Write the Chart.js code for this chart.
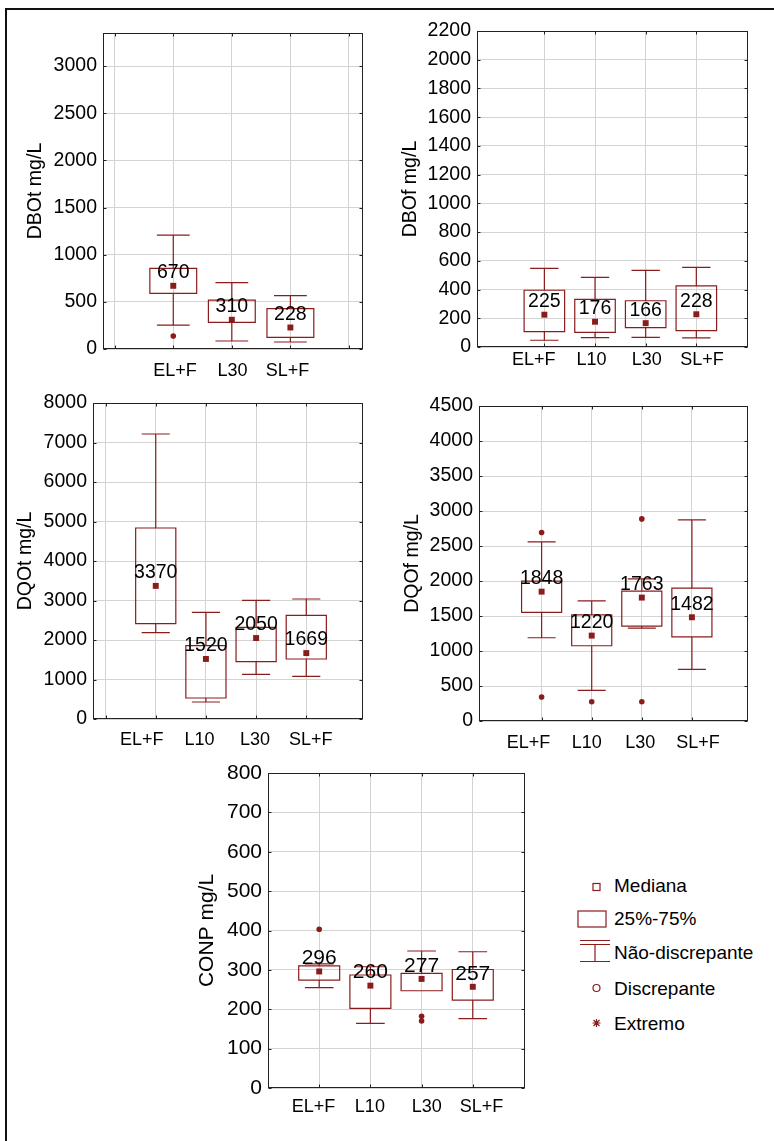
<!DOCTYPE html>
<html>
<head>
<meta charset="utf-8">
<script src="https://cdn.jsdelivr.net/npm/chart.js@4.4.0/dist/chart.umd.min.js"></script>
<style>
  html, body { margin: 0; padding: 0; background: #fff; }
  body { width: 774px; height: 1141px; position: relative; overflow: hidden; font-family: 'Liberation Sans', Arial, sans-serif; }
  canvas { position: absolute; }
  #frame { position: absolute; left: 5px; top: 8px; right: 0; bottom: 0; border-left: 2px solid #111; border-top: 2px solid #111; pointer-events: none; }
  .lg { position: absolute; left: 614px; font-size: 19px; line-height: 22px; color: #000; white-space: nowrap; }
  #legsym { position: absolute; left: 570px; top: 875px; }
</style>
</head>
<body>
<div id="frame"></div>
<canvas id="c1"></canvas>
<canvas id="c2"></canvas>
<canvas id="c3"></canvas>
<canvas id="c4"></canvas>
<canvas id="c5"></canvas>

<svg id="legsym" width="50" height="160" viewBox="0 0 50 160">
  <g fill="none" stroke="#8b1c1c" stroke-width="1.2">
    <rect x="23" y="8.5" width="7" height="7" />
    <rect x="8" y="36" width="28" height="16" />
    <path d="M10 65.5H40 M10 69.5H40 M25 69.5V86.5 M10 86.5H40" />
    <circle cx="26.5" cy="113" r="3.5" />
    <path d="M22.5 148H30.5 M26.5 144V152 M23.5 145L29.5 151 M29.5 145L23.5 151" />
  </g>
</svg>
<div class="lg" style="top:875px">Mediana</div>
<div class="lg" style="top:908px">25%-75%</div>
<div class="lg" style="top:942px">Não-discrepante</div>
<div class="lg" style="top:978px">Discrepante</div>
<div class="lg" style="top:1013px">Extremo</div>

<script>
const RED = '#8b1c1c'
const GRID = '#d3d3d3'
const FONT = "'Liberation Sans', Arial, sans-serif"

// grupos
const cats3 = ['EL+F', 'L30', 'SL+F']
const cats4 = ['EL+F', 'L10', 'L30', 'SL+F']

// DBOt mg/L
const dbotTicks = [0, 500, 1000, 1500, 2000, 2500, 3000]
const dbotLo = [254, 85, 74]
const dbotQ1 = [590, 283, 124]
const dbotMed = [670, 310, 228]
const dbotQ3 = [855, 519, 427]
const dbotHi = [1207, 703, 565]
const dbotOut = [[138], [], []]

// DBOf mg/L
const dbofTicks = [0, 200, 400, 600, 800, 1000, 1200, 1400, 1600, 1800, 2000, 2200]
const dbofLo = [47, 65, 67, 63]
const dbofQ1 = [107, 102, 135, 114]
const dbofMed = [225, 176, 166, 228]
const dbofQ3 = [395, 332, 322, 425]
const dbofHi = [548, 485, 534, 555]
const dbofOut = [[], [], [], []]

// DQOt mg/L
const dqotTicks = [0, 1000, 2000, 3000, 4000, 5000, 6000, 7000, 8000]
const dqotLo = [2185, 430, 1130, 1080]
const dqotQ1 = [2413, 532, 1451, 1519]
const dqotMed = [3370, 1520, 2050, 1669]
const dqotQ3 = [4835, 1856, 2319, 2623]
const dqotHi = [7215, 2699, 3003, 3038]
const dqotOut = [[], [], [], []]

// DQOf mg/L
const dqofTicks = [0, 500, 1000, 1500, 2000, 2500, 3000, 3500, 4000, 4500]
const dqofLo = [1189, 438, 1327, 738]
const dqofQ1 = [1551, 1075, 1356, 1203]
const dqofMed = [1848, 1220, 1763, 1482]
const dqofQ3 = [1998, 1517, 1855, 1898]
const dqofHi = [2559, 1717, 2031, 2873]
const dqofOut = [[2693, 343], [276], [2887, 276], []]

// CONP mg/L
const conpTicks = [0, 100, 200, 300, 400, 500, 600, 700, 800]
const conpLo = [255, 164, 247, 176]
const conpQ1 = [274, 202, 247, 223]
const conpMed = [296, 260, 277, 257]
const conpQ3 = [310, 287, 291, 301]
const conpHi = [315, 308, 348, 346]
const conpOut = [[403], [], [182, 170], []]

const panels = [
  { id: 'c1', title: 'DBOt mg/L', cats: cats3, yTicks: dbotTicks, lo: dbotLo, q1: dbotQ1, med: dbotMed, q3: dbotQ3, hi: dbotHi, out: dbotOut,
    yMax: 3350, plot: [103, 33, 363, 349], titleX: 36, xMin: -0.2, xMax: 4.24, gridAt: [0, 1, 2, 3, 4], labelAt: [1.03, 2.01, 2.95], xPad: 11, fs: 19.5 },
  { id: 'c2', title: 'DBOf mg/L', cats: cats4, yTicks: dbofTicks, lo: dbofLo, q1: dbofQ1, med: dbofMed, q3: dbofQ3, hi: dbofHi, out: dbofOut,
    yMax: 2200, plot: [477, 31, 748, 347], titleX: 411, xMin: -0.33, xMax: 5.02, gridAt: [1, 2, 3, 4], labelAt: [0.79, 1.93, 3.02, 4.11], xPad: 2, fs: 19.5 },
  { id: 'c3', title: 'DQOt mg/L', cats: cats4, yTicks: dqotTicks, lo: dqotLo, q1: dqotQ1, med: dqotMed, q3: dqotQ3, hi: dqotHi, out: dqotOut,
    yMax: 8000, plot: [93, 403, 363, 719], titleX: 25.5, xMin: -0.25, xMax: 5.13, gridAt: [0, 1, 2, 3, 4], labelAt: [0.72, 1.87, 2.98, 4.09], xPad: 10, fs: 19.5 },
  { id: 'c4', title: 'DQOf mg/L', cats: cats4, yTicks: dqofTicks, lo: dqofLo, q1: dqofQ1, med: dqofMed, q3: dqofQ3, hi: dqofHi, out: dqofOut,
    yMax: 4500, plot: [479, 406, 748, 721], titleX: 413, xMin: -0.25, xMax: 5.12, gridAt: [1, 2, 3, 4], labelAt: [0.74, 1.9, 2.97, 4.12], xPad: 11, fs: 19.5 },
  { id: 'c5', title: 'CONP mg/L', cats: cats4, yTicks: conpTicks, lo: conpLo, q1: conpQ1, med: conpMed, q3: conpQ3, hi: conpHi, out: conpOut,
    yMax: 800, plot: [268, 773, 525, 1088], titleX: 207.5, xMin: 0, xMax: 5.02, gridAt: [1, 2, 3, 4], labelAt: [0.89, 1.99, 3.1, 4.17], xPad: 8, fs: 21 },
]

const boxPlugin = p => ({
  id: 'boxes',
  beforeDatasetsDraw(chart) {
    const { ctx, scales: { x, y } } = chart
    ctx.save()
    ctx.strokeStyle = RED
    ctx.lineWidth = 1.2
    p.med.forEach((m, i) => {
      const c = i + 1
      const xc = x.getPixelForValue(c)
      const bl = x.getPixelForValue(c - 0.4), br = x.getPixelForValue(c + 0.4)
      const cl = x.getPixelForValue(c - 0.28), cr = x.getPixelForValue(c + 0.28)
      const q1 = y.getPixelForValue(p.q1[i]), q3 = y.getPixelForValue(p.q3[i])
      const lo = y.getPixelForValue(p.lo[i]), hi = y.getPixelForValue(p.hi[i])
      ctx.beginPath()
      ctx.rect(bl, q3, br - bl, q1 - q3)
      ctx.moveTo(xc, q3); ctx.lineTo(xc, hi)
      ctx.moveTo(cl, hi); ctx.lineTo(cr, hi)
      ctx.moveTo(xc, q1); ctx.lineTo(xc, lo)
      ctx.moveTo(cl, lo); ctx.lineTo(cr, lo)
      ctx.stroke()
    })
    ctx.restore()
  },
  afterDatasetsDraw(chart) {
    const { ctx, scales: { x, y } } = chart
    ctx.save()
    ctx.fillStyle = '#000'
    ctx.font = p.fs + 'px ' + FONT
    ctx.textAlign = 'center'
    ctx.textBaseline = 'middle'
    p.med.forEach((m, i) => {
      ctx.fillText(String(m), x.getPixelForValue(i + 1), y.getPixelForValue(m) - 13)
    })
    ctx.restore()
  },
  afterDraw(chart) {
    const { ctx, chartArea: a, scales: { x, y } } = chart
    ctx.save()
    ctx.strokeStyle = '#222'
    ctx.lineWidth = 1
    const L = Math.round(a.left) + 0.5, R = Math.round(a.right) - 0.5
    const T = Math.round(a.top) + 0.5, B = Math.round(a.bottom) - 0.5
    ctx.strokeRect(L, T, R - L, B - T)
    ctx.beginPath()
    y.ticks.forEach(t => {
      const py = Math.round(y.getPixelForValue(t.value)) + 0.5
      ctx.moveTo(L, py); ctx.lineTo(L + 3, py)
      ctx.moveTo(R, py); ctx.lineTo(R - 3, py)
    })
    x.ticks.forEach(t => {
      const px = Math.round(x.getPixelForValue(t.value)) + 0.5
      ctx.moveTo(px, B); ctx.lineTo(px, B - 3)
      ctx.moveTo(px, T); ctx.lineTo(px, T + 3)
    })
    ctx.stroke()
    ctx.restore()
  }
})

function makePanel(p) {
  const el = document.getElementById(p.id)
  const [pl, pt, pr, pb] = p.plot
  const left = Math.round(p.titleX - 18)
  const top = pt - 20
  const yW = pl - left
  const W = pr - left + 8
  const H = pb - top + 42
  el.width = W; el.height = H
  el.style.left = left + 'px'; el.style.top = top + 'px'
  el.style.width = W + 'px'; el.style.height = H + 'px'
  const tickFont = { family: FONT, size: p.fs }
  const xFont = { family: FONT, size: 18 }
  const titlePad = p.titleX - left - p.fs * 1.2 / 2

  const outPts = []
  p.out.forEach((vals, i) => vals.forEach(v => outPts.push({ x: i + 1, y: v })))

  new Chart(el, {
    type: 'scatter',
    data: {
      datasets: [
        { data: p.med.map((v, i) => ({ x: i + 1, y: v })), pointStyle: 'rect', pointRadius: 4.2, backgroundColor: RED, borderColor: RED, borderWidth: 0 },
        { data: outPts, pointStyle: 'circle', pointRadius: 2.8, backgroundColor: RED, borderColor: RED, borderWidth: 0 },
      ],
    },
    options: {
      responsive: false, animation: false, devicePixelRatio: 1,
      layout: { padding: { top: 20, right: 8, left: 0, bottom: 0 } },
      plugins: { legend: { display: false }, tooltip: { enabled: false } },
      scales: {
        x: {
          type: 'linear', min: p.xMin, max: p.xMax,
          afterBuildTicks: s => { s.ticks = p.gridAt.map(v => ({ value: v })) },
          ticks: { display: false },
          grid: { color: GRID, drawTicks: false },
          border: { display: false },
          afterFit: s => { s.height = 0 },
        },
        xl: {
          type: 'linear', axis: 'x', position: 'bottom', min: p.xMin, max: p.xMax,
          afterBuildTicks: s => { s.ticks = p.labelAt.map(v => ({ value: v })) },
          ticks: { autoSkip: false, maxRotation: 0, padding: p.xPad, font: xFont, color: '#000', callback: (v, i) => p.cats[i] },
          grid: { display: false, drawTicks: false },
          border: { display: false },
          afterFit: s => { s.height = 42 },
        },
        y: {
          min: 0, max: p.yMax,
          afterBuildTicks: s => { s.ticks = p.yTicks.map(v => ({ value: v })) },
          ticks: { autoSkip: false, padding: 6, font: tickFont, color: '#000', callback: v => String(v) },
          grid: { color: GRID, drawTicks: false },
          border: { display: false },
          title: { display: true, text: p.title, font: tickFont, color: '#000', padding: { top: titlePad, bottom: 0 } },
          afterFit: s => { s.width = yW },
        },
      },
    },
    plugins: [boxPlugin(p)],
  })
}

panels.forEach(makePanel)
</script>
</body>
</html>
